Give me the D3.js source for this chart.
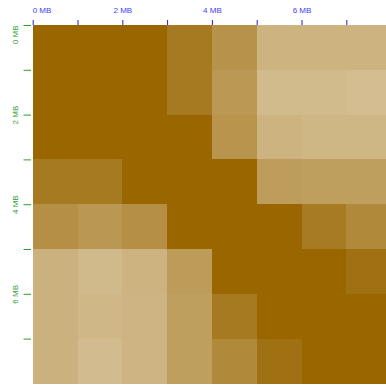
<!DOCTYPE html>
<html>
<head>
<meta charset="utf-8">
<script src="https://cdn.jsdelivr.net/npm/d3@7"></script>
<style>
  body { margin: 0; background: #fff; }
  svg { display: block; }
</style>
</head>
<body>
<div id="chart"></div>
<script>
// bins along both axes, 1 MB each
const bins = [0, 1, 2, 3, 4, 5, 6, 7]
const tickValues = [0, 1, 2, 3, 4, 5, 6, 7]
const labelValues = [0, 2, 4, 6]

// how far each cell is faded from the darkest colour (0 = darkest)
const row0 = [0, 0, 0, 0.13, 0.29, 0.5, 0.5, 0.5]
const row1 = [0, 0, 0, 0.13, 0.33, 0.55, 0.55, 0.57]
const row2 = [0, 0, 0, 0, 0.3, 0.5, 0.52, 0.52]
const row3 = [0.13, 0.13, 0, 0, 0, 0.36, 0.37, 0.37]
const row4 = [0.27, 0.32, 0.27, 0, 0, 0, 0.14, 0.23]
const row5 = [0.49, 0.54, 0.5, 0.35, 0, 0, 0, 0.07]
const row6 = [0.49, 0.53, 0.51, 0.37, 0.13, 0, 0, 0]
const row7 = [0.49, 0.56, 0.51, 0.37, 0.23, 0.07, 0, 0]
const rows = [row0, row1, row2, row3, row4, row5, row6, row7]

const W = 386
const H = 385
const cell = 44.8
const marginLeft = 32.7
const marginTop = 25

const x = d3.scaleLinear().domain([0, 8]).range([marginLeft, marginLeft + 8 * cell])
const y = d3.scaleLinear().domain([0, 8]).range([marginTop, marginTop + 8 * cell])
const color = d3.scaleLinear().domain([0, 1]).range(['#996600', '#ffffff'])

const svg = d3.select('#chart').append('svg')
  .attr('width', W)
  .attr('height', H)

const cells = []
rows.forEach((r, i) => r.forEach((v, j) => cells.push({ row: bins[i], col: bins[j], v })))

svg.append('g')
  .attr('shape-rendering', 'crispEdges')
  .selectAll('rect')
  .data(cells)
  .enter()
  .append('rect')
  .attr('x', d => x(d.col))
  .attr('y', d => y(d.row))
  .attr('width', d => x(d.col + 1) - x(d.col) + 0.5)
  .attr('height', d => y(d.row + 1) - y(d.row) + 0.5)
  .attr('fill', d => color(d.v))

const fmt = d => (labelValues.includes(d) ? d + ' MB' : '')

// top axis
const gx = svg.append('g')
  .attr('transform', `translate(0,${marginTop})`)
  .call(d3.axisTop(x).tickValues(tickValues).tickSize(5).tickPadding(7).tickFormat(fmt))
gx.select('.domain').remove()
gx.selectAll('line').attr('stroke', '#1a1aff')
gx.selectAll('text')
  .attr('fill', '#4040ff')
  .style('font', '8px "Liberation Sans", Arial, sans-serif')
  .attr('text-anchor', d => (d === 0 ? 'start' : 'middle'))
  .attr('x', d => (d === 0 ? -0.5 : 0))

// left axis
const gy = svg.append('g')
  .attr('transform', 'translate(31,0)')
  .call(d3.axisLeft(y).tickValues(tickValues).tickSize(7.5).tickFormat(fmt))
gy.select('.domain').remove()
gy.selectAll('line').attr('stroke', '#2e9e2e')
gy.selectAll('text')
  .attr('x', null)
  .attr('dy', null)
  .attr('fill', '#2e9e2e')
  .style('font', '8px "Liberation Sans", Arial, sans-serif')
  .attr('transform', 'translate(-12.7,0) rotate(-90)')
  .attr('text-anchor', d => (d === 0 ? 'end' : 'middle'))
</script>
</body>
</html>
